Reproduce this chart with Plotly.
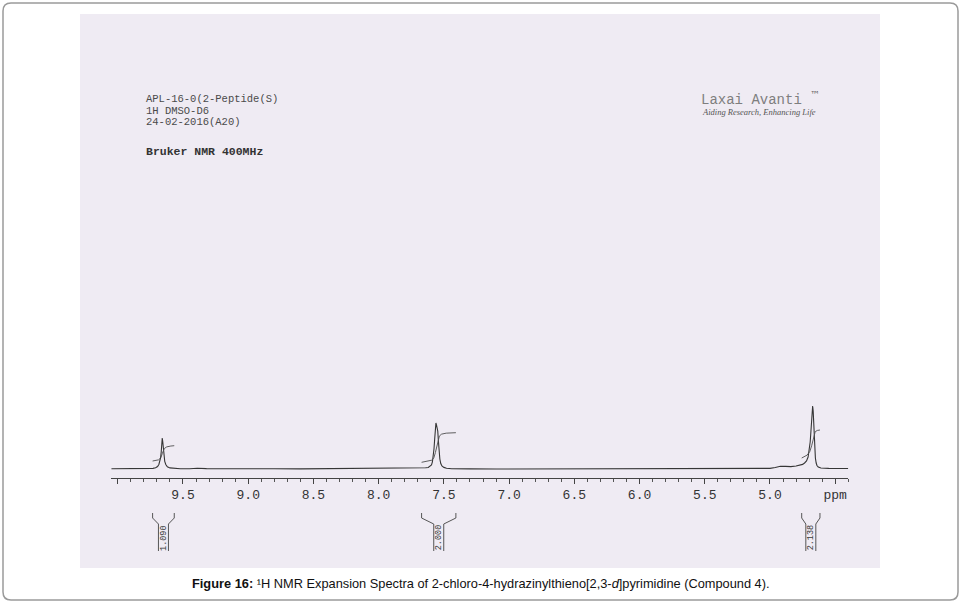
import numpy as np
import plotly.graph_objects as go

# ---------------- data ----------------
spec_ppm = [10.05, 9.95, 9.85, 9.78,
            9.76, 9.73, 9.71, 9.695, 9.685, 9.678, 9.672, 9.667, 9.663, 9.659,
            9.655, 9.651, 9.646, 9.640, 9.632, 9.62, 9.60, 9.57, 9.52,
            9.45, 9.39, 9.32, 9.20, 9.00, 8.80, 8.60, 8.40, 8.20, 8.08, 8.02,
            7.95, 7.85, 7.75, 7.68,
            7.64, 7.62, 7.605, 7.595, 7.588, 7.582, 7.576, 7.570, 7.565, 7.561,
            7.557, 7.552, 7.547, 7.542, 7.537, 7.531, 7.524, 7.515, 7.50, 7.48,
            7.44, 7.40,
            7.30, 7.10, 6.90, 6.50, 6.00, 5.50, 5.20, 5.05, 5.00, 4.96, 4.92,
            4.88, 4.84,
            4.80, 4.77, 4.75, 4.735, 4.72, 4.708, 4.700, 4.692, 4.686, 4.681,
            4.677, 4.673, 4.669, 4.665, 4.661, 4.657, 4.652, 4.646, 4.64, 4.63,
            4.61, 4.55, 4.40]
spec_int = [0.3, 0.3, 0.2, 0.2,
            0.2, 0.6, 1.2, 2.5, 4.5, 7.5, 11, 17, 25, 31,
            27, 19, 12, 7.5, 4.5, 2.2, 1.1, 0.6, 0.3,
            0.3, 0.7, 0.4, 0.2, 0.1, 0.2, 0.1, 0.2, 0.3, 0.6, 1.0,
            0.7, 0.6, 1.1, 1.3,
            1.2, 1.5, 2.5, 4, 7, 12, 20, 31, 41, 46,
            44, 42, 38, 28, 18, 10, 5.5, 3, 1.6, 0.8,
            0.3, 0.1,
            0.1, 0.0, 0.0, 0.0, 0.0, 0.1, 0.2, 0.3, 0.6, 1.5, 2.8,
            2.6, 2.4,
            3, 3.8, 4.6, 6, 8, 12, 18, 27, 38, 50,
            60, 63, 58, 46, 32, 20, 11, 6, 3.5, 2,
            1, 0.6, 0.5]

# integral regions: left ppm, right ppm, trace start level, trace end level, value
int_left = [9.733, 7.671, 4.757]
int_right = [9.567, 7.408, 4.617]
int_start = [8.0, 6.7, 11.0]
int_end = [23.3, 36.3, 39.0]
int_value = ["1.090", "2.000", "2.138"]

tick_vals = [10.0, 9.5, 9.0, 8.5, 8.0, 7.5, 7.0, 6.5, 6.0, 5.5, 5.0, 4.5]
tick_text = ["", "9.5", "9.0", "8.5", "8.0", "7.5", "7.0", "6.5", "6.0", "5.5", "5.0", "ppm"]

header_lines = ["APL-16-0(2-Peptide(S)", "1H DMSO-D6", "24-02-2016(A20)"]
instrument = "Bruker NMR 400MHz"
caption = ("<b>Figure 16:</b> \u00b9H NMR Expansion Spectra of "
           "2-chloro-4-hydrazinylthieno[2,3-<i>d</i>]pyrimidine (Compound 4).")

# ---------------- figure ----------------
W, H = 962, 604
def px(x):
    return x / W
def py(y):
    return 1 - y / H

fig = go.Figure()

fig.add_trace(go.Scatter(x=spec_ppm, y=spec_int, mode="lines",
                         line=dict(color="#363636", width=1.1),
                         hoverinfo="skip", xaxis="x", yaxis="y"))

asc_x = np.array(spec_ppm[::-1])
asc_y = np.array(spec_int[::-1])
for l, r, s, e in zip(int_left, int_right, int_start, int_end):
    gx = np.linspace(l, r, 300)
    gy = np.interp(gx, asc_x, asc_y)
    cum = np.concatenate([[0], np.cumsum(0.5 * (gy[1:] + gy[:-1]) * np.abs(np.diff(gx)))])
    cum = cum / cum[-1]
    fig.add_trace(go.Scatter(x=gx, y=s + (e - s) * cum, mode="lines",
                             line=dict(color="#4e4e4e", width=0.9),
                             hoverinfo="skip", xaxis="x", yaxis="y"))

# integral brackets below the axis (y2 in pixel units)
half = 5 / 130.44
for l, r, v in zip(int_left, int_right, int_value):
    c = (l + r) / 2
    for edge, inner in ((l, c + half), (r, c - half)):
        fig.add_trace(go.Scatter(x=[edge, edge, inner, inner], y=[513, 518, 524, 551],
                                 mode="lines", line=dict(color="#555555", width=1),
                                 hoverinfo="skip", xaxis="x", yaxis="y2"))
    fig.add_annotation(x=c, y=537.5, xref="x", yref="y2", text=v, showarrow=False,
                       textangle=-90, font=dict(family="Liberation Mono", size=8.5, color="#3a3a3a"))

# axis layout
x_left_px = 183 - 0.55 * 130.44
x_right_px = 770 + 0.60 * 130.44
fig.update_layout(
    width=W, height=H, margin=dict(l=0, r=0, t=0, b=0),
    paper_bgcolor="white", plot_bgcolor="rgba(0,0,0,0)", showlegend=False,
    xaxis=dict(domain=[px(x_left_px), px(x_right_px)], range=[10.05, 4.40],
               showgrid=False, zeroline=False, showline=True, linecolor="#444",
               linewidth=1, ticks="outside", ticklen=5, tickcolor="#444",
               tickmode="array", tickvals=tick_vals, ticktext=tick_text,
               tickfont=dict(family="Liberation Mono", size=13, color="#333"),
               minor=dict(ticks="outside", ticklen=3, tickcolor="#555",
                          tick0=5.0, dtick=0.1, showgrid=False),
               anchor="y", fixedrange=True),
    yaxis=dict(domain=[py(477.5), py(395)], range=[-8.5, 74], visible=False,
               fixedrange=True),
    yaxis2=dict(domain=[py(556), py(506)], range=[556, 506], visible=False,
                anchor="x", fixedrange=True),
)

# background: scan area and outer rounded frame
def rrect(x0, y0, x1, y1, rad):
    return (f"M {px(x0+rad)},{py(y0)} L {px(x1-rad)},{py(y0)} "
            f"Q {px(x1)},{py(y0)} {px(x1)},{py(y0+rad)} L {px(x1)},{py(y1-rad)} "
            f"Q {px(x1)},{py(y1)} {px(x1-rad)},{py(y1)} L {px(x0+rad)},{py(y1)} "
            f"Q {px(x0)},{py(y1)} {px(x0)},{py(y1-rad)} L {px(x0)},{py(y0+rad)} "
            f"Q {px(x0)},{py(y0)} {px(x0+rad)},{py(y0)} Z")

fig.add_shape(type="rect", xref="paper", yref="paper", x0=px(80), x1=px(880),
              y0=py(568), y1=py(14), fillcolor="#efebf3", line=dict(width=0), layer="below")
fig.add_shape(type="path", xref="paper", yref="paper", path=rrect(3, 3, 958, 600, 8),
              line=dict(color="#9a9a9a", width=1.5), layer="above")

# header text
for i, t in enumerate(header_lines):
    fig.add_annotation(x=px(144), y=py(99.5 + 11 * i), xref="paper", yref="paper",
                       text=t, showarrow=False, xanchor="left", yanchor="middle",
                       font=dict(family="Liberation Mono", size=10.5, color="#4a4a4a"))
fig.add_annotation(x=px(144), y=py(152), xref="paper", yref="paper",
                   text=f"<b>{instrument}</b>", showarrow=False, xanchor="left",
                   yanchor="middle", font=dict(family="Liberation Mono", size=11.5, color="#333"))

# logo
fig.add_annotation(x=px(699), y=py(100), xref="paper", yref="paper", text="Laxai Avanti",
                   showarrow=False, xanchor="left", yanchor="middle",
                   font=dict(family="Liberation Mono", size=14, color="#7e7e7e"))
fig.add_annotation(x=px(808), y=py(95), xref="paper", yref="paper", text="\u2122",
                   showarrow=False, xanchor="left", yanchor="middle",
                   font=dict(family="DejaVu Sans", size=10, color="#666"))
fig.add_annotation(x=px(700), y=py(112), xref="paper", yref="paper",
                   text="<i>Aiding Research, Enhancing Life</i>",
                   showarrow=False, xanchor="left", yanchor="middle",
                   font=dict(family="Liberation Serif", size=8.5, color="#555"))

# caption
fig.add_annotation(x=px(481), y=py(583), xref="paper", yref="paper", text=caption,
                   showarrow=False, xanchor="center", yanchor="middle",
                   font=dict(family="Liberation Sans", size=12.8, color="#111"))

fig.write_html("out.html", config={"displayModeBar": False},
               post_script="document.body.style.margin='0';document.body.style.overflow='hidden';")
